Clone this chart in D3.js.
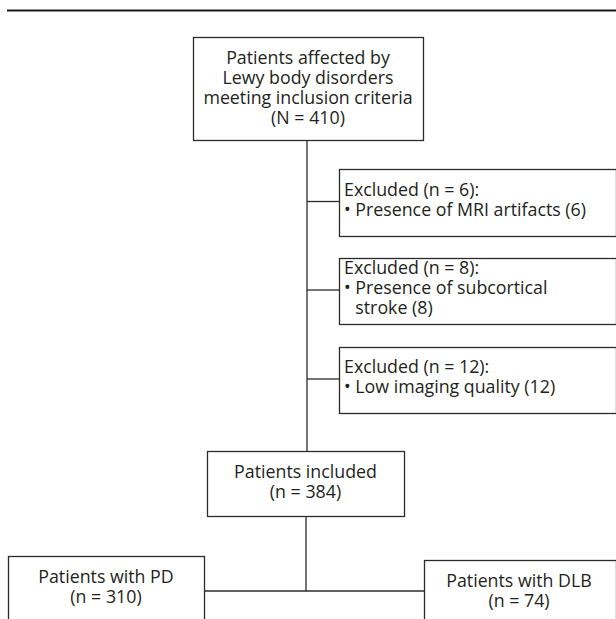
<!DOCTYPE html>
<html>
<head>
<meta charset="utf-8">
<script src="https://cdn.jsdelivr.net/npm/d3@7"></script>
<style>
  html, body { margin: 0; padding: 0; background: #fff; }
  svg { display: block; }
  text { font-family: "Open Sans", "Noto Sans", sans-serif; font-size: 17.8px; fill: #231f20; }
</style>
</head>
<body>
<svg id="chart" width="616" height="619"></svg>
<script>
// flowchart values
const cohortLines = ["Patients affected by", "Lewy body disorders", "meeting inclusion criteria"];
const totalN = 410;
const exclusionReasons = ["Presence of MRI artifacts", "Presence of subcortical stroke", "Low imaging quality"];
const exclusionCounts = [6, 8, 12];
const includedN = 384;
const groupNames = ["PD", "DLB"];
const groupCounts = [310, 74];

const lineColor = "#2b2b2b";
const svg = d3.select("#chart");

// layout of the boxes (pixels)
const topBox = { x: 193, y: 37, w: 230, h: 103, cx: 308, cy: 90 };
const exclBoxes = [
  { x: 339, y: 169, w: 277, h: 67 },
  { x: 339, y: 258, w: 277, h: 66 },
  { x: 339, y: 347, w: 277, h: 66 }
];
const inclBox = { x: 207, y: 451, w: 197, h: 65, cx: 305.5, cy: 484 };
const groupBoxes = [
  { x: 8, y: 556, w: 196, h: 80, cx: 106, cy: 589 },
  { x: 424, y: 560, w: 192, h: 80, cx: 519, cy: 593 }
];
const spineX = 307;
const lineH = 20;
const bullet = "•\u00a0";

// top rule
svg.append("line")
  .attr("x1", 7).attr("x2", 616)
  .attr("y1", 10.5).attr("y2", 10.5)
  .attr("stroke", "#1a1a1a")
  .attr("stroke-width", 2.2);

const links = svg.append("g")
  .attr("stroke", lineColor)
  .attr("stroke-width", 1.3)
  .attr("fill", "none");

// spine from top box down to included box
links.append("line")
  .attr("x1", spineX).attr("x2", spineX)
  .attr("y1", topBox.y + topBox.h).attr("y2", inclBox.y);

// branches to exclusion boxes
links.selectAll("line.branch")
  .data(exclBoxes)
  .join("line")
  .attr("class", "branch")
  .attr("x1", spineX)
  .attr("x2", (d) => d.x)
  .attr("y1", (d) => d.y + d.h / 2 - 1)
  .attr("y2", (d) => d.y + d.h / 2 - 1);

// split to the two groups
const splitY = 591;
links.append("line")
  .attr("x1", 306).attr("x2", 306)
  .attr("y1", inclBox.y + inclBox.h).attr("y2", splitY);
links.append("line")
  .attr("x1", groupBoxes[0].x + groupBoxes[0].w)
  .attr("x2", groupBoxes[1].x)
  .attr("y1", splitY).attr("y2", splitY);

function drawBox(b) {
  svg.append("rect")
    .attr("x", b.x + 0.5).attr("y", b.y + 0.5)
    .attr("width", b.w).attr("height", b.h)
    .attr("fill", "#fff")
    .attr("stroke", lineColor)
    .attr("stroke-width", 1.3);
}

function centeredLines(b, lines) {
  const first = b.cy - ((lines.length - 1) * lineH) / 2 + 4;
  svg.append("text")
    .attr("text-anchor", "middle")
    .selectAll("tspan")
    .data(lines)
    .join("tspan")
    .attr("x", b.cx)
    .attr("y", (d, i) => first + i * lineH)
    .text((d) => d);
}

drawBox(topBox);
centeredLines(topBox, [...cohortLines, `(N = ${totalN})`]);

// exclusion boxes, left aligned, bullet text wrapped to box width
exclBoxes.forEach((b, i) => {
  drawBox(b);
  const tx = b.x + 5;
  const maxW = 252;
  const t = svg.append("text");
  const heading = `Excluded (n = ${exclusionCounts[i]}):`;
  const words = `${exclusionReasons[i]} (${exclusionCounts[i]})`.split(" ");
  // measure to wrap
  const probe = svg.append("text").attr("x", 0).attr("y", -50);
  const rows = [];
  let cur = bullet;
  words.forEach((w) => {
    const test = cur === bullet ? cur + w : cur + " " + w;
    probe.text(test);
    if (probe.node().getComputedTextLength() > maxW && cur !== bullet) {
      rows.push(cur);
      cur = w;
    } else {
      cur = test;
    }
  });
  rows.push(cur);
  probe.text(bullet);
  const indent = probe.node().getComputedTextLength();
  probe.remove();

  const lines = [heading, ...rows];
  const cy = b.y + b.h / 2;
  const first = cy - ((lines.length - 1) * lineH) / 2 + 3;
  t.selectAll("tspan")
    .data(lines)
    .join("tspan")
    .attr("x", (d, j) => (j > 1 ? tx + indent : tx))
    .attr("y", (d, j) => first + j * lineH)
    .text((d) => d);
});

drawBox(inclBox);
centeredLines(inclBox, ["Patients included", `(n = ${includedN})`]);

groupBoxes.forEach((b, i) => {
  drawBox(b);
  centeredLines(b, [`Patients with ${groupNames[i]}`, `(n = ${groupCounts[i]})`]);
});
</script>
</body>
</html>
